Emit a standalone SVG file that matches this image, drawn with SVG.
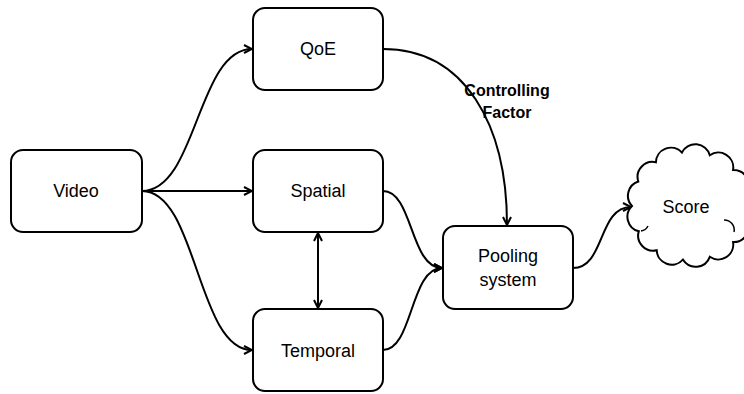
<svg xmlns="http://www.w3.org/2000/svg" width="744" height="394" viewBox="0 0 744 394">
  <style>
    .box { fill: #ffffff; stroke: #000000; stroke-width: 2; }
    .lbl { font-family: "Liberation Sans", Arial, sans-serif; font-size: 18px; fill: #000000; text-anchor: middle; }
    .note { font-family: "Liberation Sans", Arial, sans-serif; font-size: 16px; font-weight: bold; fill: #000000; text-anchor: middle; }
    .edge { fill: none; stroke: #000000; stroke-width: 2; }
  </style>
  <defs>
    <marker id="arrow" viewBox="0 0 10 10" refX="9" refY="5" markerWidth="10" markerHeight="10" markerUnits="userSpaceOnUse" orient="auto-start-reverse">
      <path d="M1,1 L9,5 L1,9" fill="none" stroke="#000000" stroke-width="2" stroke-linejoin="miter"/>
    </marker>
  </defs>
  <rect width="744" height="394" fill="#ffffff"/>

  <g id="connectors">
    <path class="edge" d="M142,191 C197,191 197,49 252,49" marker-end="url(#arrow)"/>
    <path class="edge" d="M142,191 L252,191" marker-end="url(#arrow)"/>
    <path class="edge" d="M142,191 C197,191 197,350 252,350" marker-end="url(#arrow)"/>
    <path class="edge" d="M318,233 L318,308" marker-start="url(#arrow)" marker-end="url(#arrow)"/>
    <path class="edge" d="M383,191 C413,191 410,268 442,268" marker-end="url(#arrow)"/>
    <path class="edge" d="M383,350 C413,350 410,268 442,268" marker-end="url(#arrow)"/>
    <path class="edge" d="M383,49 C465,49 507,125 507,225" marker-end="url(#arrow)"/>
    <path class="edge" d="M573,268 C605,268 598,207 631,207" marker-end="url(#arrow)"/>
  </g>

  <text class="note" x="507" y="96">Controlling</text>
  <text class="note" x="507" y="118">Factor</text>

  <g id="video">
    <rect class="box" x="11" y="150" width="131" height="82" rx="12"/>
    <text class="lbl" x="76" y="197">Video</text>
  </g>
  <g id="qoe">
    <rect class="box" x="253" y="8" width="130" height="82" rx="12"/>
    <text class="lbl" x="318" y="55">QoE</text>
  </g>
  <g id="spatial">
    <rect class="box" x="253" y="150" width="130" height="82" rx="12"/>
    <text class="lbl" x="318" y="197">Spatial</text>
  </g>
  <g id="temporal">
    <rect class="box" x="253" y="309" width="130" height="82" rx="12"/>
    <text class="lbl" x="318" y="357">Temporal</text>
  </g>
  <g id="pooling">
    <rect class="box" x="443" y="226" width="130" height="83" rx="12"/>
    <text class="lbl" x="508" y="262">Pooling</text>
    <text class="lbl" x="508" y="286">system</text>
  </g>
  <g id="score">
    <path class="box" d="M632,206 A15,15 0 0 1 638.3,181.5 A15,15 0 0 1 655.9,162.3 A15,15 0 0 1 681.9,152.5 A15,15 0 0 1 709.8,155.2 A15,15 0 0 1 733.1,169.9 A15,15 0 0 1 746.3,192.9 A15,15 0 0 1 746.3,219.1 A15,15 0 0 1 733.1,242.1 A15,15 0 0 1 709.8,256.8 A15,15 0 0 1 682.9,259.6 A15,15 0 0 1 656.7,250.2 A15,15 0 0 1 638.8,231.3 A15,15 0 0 1 632,206 Z"/>
    <path fill="none" stroke="#000000" stroke-width="1.5" d="M724,220 A10,10 0 0 1 734,232 M641,231 A9,9 0 0 0 648,226"/>
    <text class="lbl" x="686" y="213">Score</text>
  </g>
</svg>
